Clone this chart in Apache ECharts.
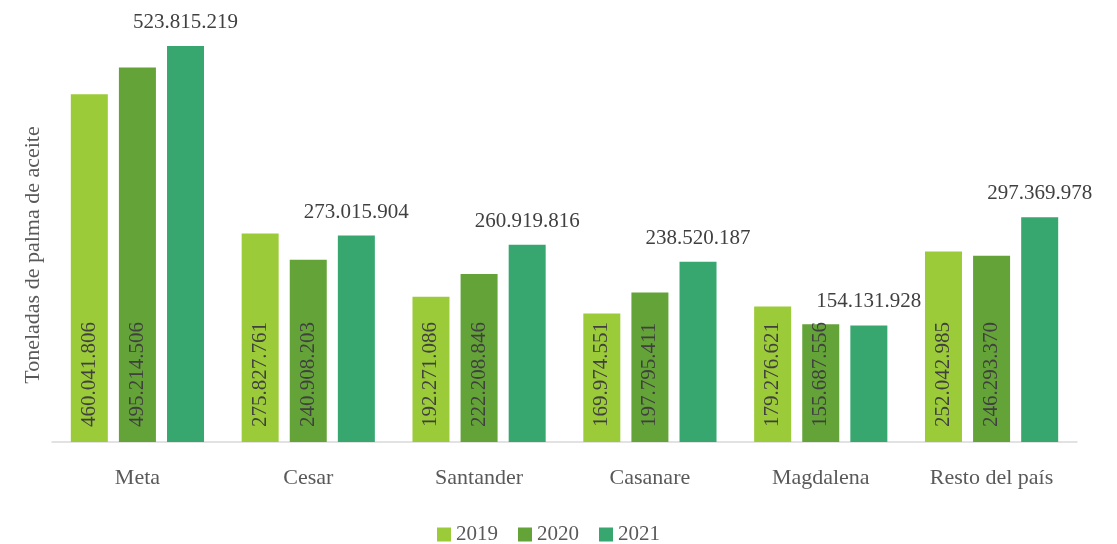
<!DOCTYPE html>
<html>
<head>
<meta charset="utf-8">
<script src="https://cdn.jsdelivr.net/npm/echarts@6/dist/echarts.min.js"></script>
<style>
  html, body { margin: 0; padding: 0; background: #fff; }
  #chart { width: 1117px; height: 544px; }
</style>
</head>
<body>
<div id="chart"></div>
<script>
const categories = ['Meta', 'Cesar', 'Santander', 'Casanare', 'Magdalena', 'Resto del país'];
const years = ['2019', '2020', '2021'];
const v2019 = [460041806, 275827761, 192271086, 169974551, 179276621, 252042985];
const v2020 = [495214506, 240908203, 222208846, 197795411, 155687556, 246293370];
const v2021 = [523815219, 273015904, 260919816, 238520187, 154131928, 297369978];
const colors = ['#9bcb38', '#63a337', '#37a76f'];

const font = 'Liberation Serif';
const fmt = (v) => String(v).replace(/\B(?=(\d{3})+(?!\d))/g, '.');

const chart = echarts.init(document.getElementById('chart'));

const insideLabel = {
  show: true,
  position: 'insideBottom',
  rotate: 90,
  align: 'left',
  verticalAlign: 'middle',
  distance: 15,
  color: '#404040',
  fontFamily: font,
  fontSize: 21,
  formatter: (p) => fmt(p.value)
};

chart.setOption({
  animation: false,
  color: colors,
  textStyle: { fontFamily: font },
  grid: { left: 52, right: 40, top: 40, bottom: 102 },
  legend: {
    bottom: -6,
    left: 432,
    itemWidth: 14,
    itemHeight: 14,
    itemGap: 20,
    icon: 'rect',
    textStyle: { fontFamily: font, fontSize: 21, color: '#595959' },
    data: years
  },
  xAxis: {
    type: 'category',
    data: categories,
    axisTick: { show: false },
    axisLine: { lineStyle: { color: '#d9d9d9', width: 1.5 } },
    axisLabel: { fontFamily: font, fontSize: 22, color: '#595959', margin: 25 }
  },
  yAxis: {
    type: 'value',
    min: 0,
    max: 531700000,
    name: 'Toneladas de palma de aceite',
    nameLocation: 'middle',
    nameGap: 8,
    nameTextStyle: { fontFamily: font, fontSize: 22, color: '#595959', padding: [0, 28, 0, 0] },
    axisLine: { show: false },
    axisTick: { show: false },
    axisLabel: { show: false },
    splitLine: { show: false }
  },
  series: [
    {
      name: '2019', type: 'bar', data: v2019,
      barWidth: 37, barGap: '30%',
      label: insideLabel
    },
    {
      name: '2020', type: 'bar', data: v2020,
      barWidth: 37, barGap: '30%',
      label: insideLabel
    },
    {
      name: '2021', type: 'bar', data: v2021,
      barWidth: 37, barGap: '30%',
      label: {
        show: true,
        position: 'top',
        distance: 13,
        color: '#404040',
        fontFamily: font,
        fontSize: 21,
        formatter: (p) => fmt(p.value)
      }
    }
  ]
});
</script>
</body>
</html>
